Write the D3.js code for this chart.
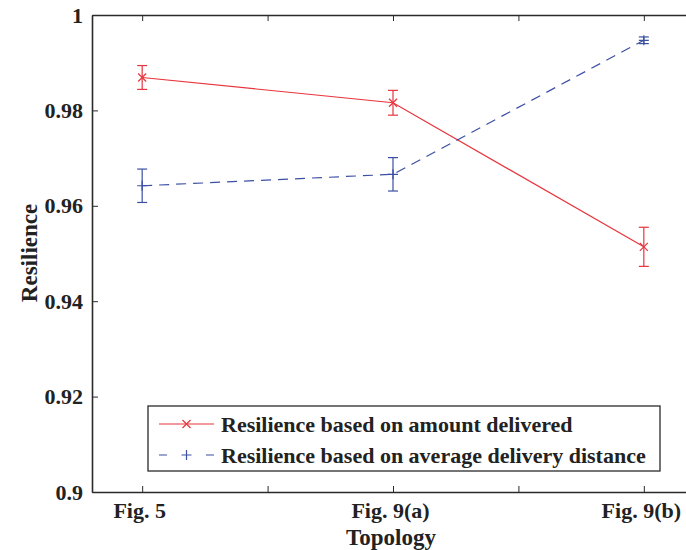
<!DOCTYPE html>
<html>
<head>
<meta charset="utf-8">
<script src="https://cdn.jsdelivr.net/npm/d3@7"></script>
<style>
  html, body { margin: 0; padding: 0; background: #fff; }
  svg { display: block; }
  text { font-family: "Liberation Serif", "Times New Roman", serif; font-weight: bold; fill: #222; }
</style>
</head>
<body>
<svg id="chart" width="686" height="550"></svg>
<script>
// ---- data ----
const categories = ["Fig. 5", "Fig. 9(a)", "Fig. 9(b)"];
const categoryPos = [1, 2, 3];
const seriesNames = ["Resilience based on amount delivered", "Resilience based on average delivery distance"];
const amountValues = [0.9869, 0.9816, 0.9514];
const amountErrors = [0.0025, 0.0026, 0.0041];
const distanceValues = [0.9642, 0.9666, 0.9947];
const distanceErrors = [0.0035, 0.0035, 0.0007];
const yTicks = [0.9, 0.92, 0.94, 0.96, 0.98, 1];
const yTickLabels = ["0.9", "0.92", "0.94", "0.96", "0.98", "1"];
const xTicks = [1, 1.5, 2, 2.5, 3];

const svg = d3.select("#chart");
const pLeft = 92, pRight = 694, pTop = 15, pBottom = 492;
const x = d3.scaleLinear().domain([0.8, 3.2]).range([pLeft, pRight]);
const y = d3.scaleLinear().domain([0.9, 1.0]).range([pBottom, pTop]);

const axisColor = "#2a2a2a";
const red = "#e8343c";
const blue = "#3b4fa3";
const fontFam = '"Liberation Serif", "Times New Roman", serif';

// axes (MATLAB style box with inward ticks)
const tickLen = 6;
const bottomAxis = svg.append("g").attr("transform", `translate(0,${pBottom})`)
  .call(d3.axisBottom(x).tickValues(xTicks).tickSizeInner(-tickLen).tickSizeOuter(0)
    .tickFormat(d => { const i = categoryPos.indexOf(d); return i >= 0 ? categories[i] : ""; }));
const topAxis = svg.append("g").attr("transform", `translate(0,${pTop})`)
  .call(d3.axisTop(x).tickValues(xTicks).tickSizeInner(-tickLen).tickSizeOuter(0).tickFormat(""));
const leftAxis = svg.append("g").attr("transform", `translate(${pLeft},0)`)
  .call(d3.axisLeft(y).tickValues(yTicks).tickSizeInner(-tickLen).tickSizeOuter(0)
    .tickFormat((d, i) => yTickLabels[i]));

[bottomAxis, topAxis, leftAxis].forEach(g => {
  g.select(".domain").attr("stroke", axisColor).attr("stroke-width", 1.6);
  g.selectAll(".tick line").attr("stroke", axisColor).attr("stroke-width", 1);
  g.selectAll("text").attr("font-family", fontFam)
    .attr("font-weight", "bold").attr("font-size", 22).attr("fill", "#222");
});
bottomAxis.selectAll(".tick text").attr("dy", "0.71em").attr("y", 10).attr("dx", -3);
leftAxis.selectAll(".tick text").attr("x", -9);

// axis labels
svg.append("text").attr("x", 391).attr("y", 545).attr("text-anchor", "middle")
  .attr("font-size", 23).text("Topology");
svg.append("text").attr("transform", `translate(37,253) rotate(-90)`)
  .attr("text-anchor", "middle").attr("font-size", 23).text("Resilience");

// series
function drawMarker(g, cx, cy, color, marker) {
  const s = 4;
  if (marker === "x") {
    g.append("path").attr("d", `M${cx - s},${cy - s}L${cx + s},${cy + s}M${cx - s},${cy + s}L${cx + s},${cy - s}`)
      .attr("stroke", color).attr("stroke-width", 1.2).attr("fill", "none");
  } else {
    g.append("path").attr("d", `M${cx - s - 1},${cy}L${cx + s + 1},${cy}M${cx},${cy - s - 1}L${cx},${cy + s + 1}`)
      .attr("stroke", color).attr("stroke-width", 1.2).attr("fill", "none");
  }
}
function drawSeries(values, errors, color, dash, marker) {
  const g = svg.append("g");
  const line = d3.line().x((d, i) => x(categoryPos[i])).y(d => y(d));
  g.append("path").datum(values).attr("d", line).attr("fill", "none")
    .attr("stroke", color).attr("stroke-width", 1.2).attr("stroke-dasharray", dash);
  const cap = 5;
  values.forEach((v, i) => {
    const cx = x(categoryPos[i]);
    const y0 = y(v + errors[i]), y1 = y(v - errors[i]);
    g.append("line").attr("x1", cx).attr("x2", cx).attr("y1", y0).attr("y2", y1)
      .attr("stroke", color).attr("stroke-width", 1.2);
    [y0, y1].forEach(yy => g.append("line").attr("x1", cx - cap).attr("x2", cx + cap)
      .attr("y1", yy).attr("y2", yy).attr("stroke", color).attr("stroke-width", 1.2));
    drawMarker(g, cx, y(v), color, marker);
  });
}
drawSeries(amountValues, amountErrors, red, null, "x");
drawSeries(distanceValues, distanceErrors, blue, "10,7", "+");

// legend
const lg = svg.append("g");
lg.append("rect").attr("x", 148).attr("y", 406).attr("width", 512).attr("height", 65)
  .attr("fill", "#fff").attr("stroke", axisColor).attr("stroke-width", 1.3);
const rows = [
  { name: seriesNames[0], color: red, dash: null, marker: "x", yy: 424 },
  { name: seriesNames[1], color: blue, dash: "8,39", marker: "+", yy: 455 }
];
rows.forEach(r => {
  lg.append("line").attr("x1", 159).attr("x2", 214).attr("y1", r.yy).attr("y2", r.yy)
    .attr("stroke", r.color).attr("stroke-width", 1.2).attr("stroke-dasharray", r.dash);
  drawMarker(lg, 186.5, r.yy, r.color, r.marker);
  lg.append("text").attr("x", 221).attr("y", r.yy + 8).attr("font-size", 22).text(r.name);
});
</script>
</body>
</html>
